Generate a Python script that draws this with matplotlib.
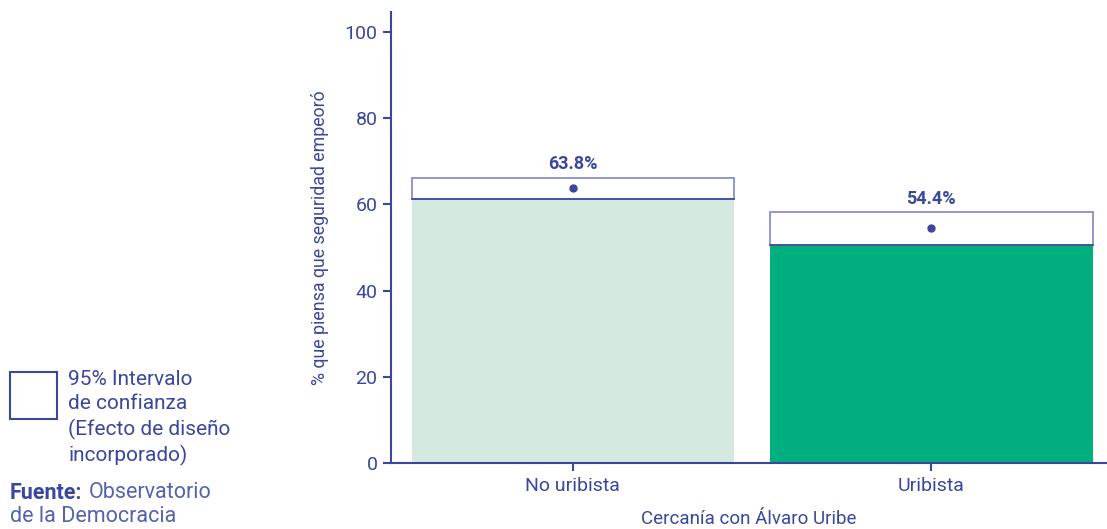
import matplotlib.pyplot as plt
from matplotlib.patches import Rectangle

plt.rcParams['font.family'] = ['Roboto', 'DejaVu Sans']

categories = ['No uribista', 'Uribista']
means = [63.8, 54.4]
ci_low = [61.2, 50.6]
ci_high = [66.2, 58.2]
labels = ['63.8%', '54.4%']
colors = ['#d4e9e0', '#00ae7e']

navy = '#3a479c'
box_edge = '#8f98c8'

fig = plt.figure(figsize=(11.07, 5.29), dpi=100)
ax = fig.add_axes([0.353, 0.125, 0.647, 0.852])

x = range(len(categories))
width = 0.9

# barras hasta el limite inferior del intervalo
ax.bar(x, ci_low, width=width, color=colors, zorder=1)

# cajas del intervalo de confianza
for i in x:
    ax.add_patch(Rectangle((i - width / 2, ci_low[i]), width, ci_high[i] - ci_low[i],
                           facecolor='white', edgecolor=box_edge, lw=1.4, zorder=2))
    ax.plot([i - width / 2, i + width / 2], [ci_low[i], ci_low[i]], color=navy, lw=1.2, zorder=3)
    ax.plot(i, means[i], 'o', color=navy, ms=5, zorder=4)
    ax.text(i, ci_high[i] + 1.0, labels[i], ha='center', va='bottom',
            fontsize=13, fontweight='bold', color=navy)

ax.set_xlim(-0.508, 1.49)
ax.set_ylim(0, 104.6)
ax.set_xticks(list(x))
ax.set_xticklabels(categories)
ax.set_yticks([0, 20, 40, 60, 80, 100])

for s in ['top', 'right']:
    ax.spines[s].set_visible(False)
for s in ['left', 'bottom']:
    ax.spines[s].set_color(navy)
    ax.spines[s].set_linewidth(1.5)
ax.tick_params(colors=navy, labelsize=14, length=6, width=1.5)
ax.tick_params(axis='x', pad=4)

ax.set_ylabel('% que piensa que seguridad empeoró', color=navy, fontsize=12.8, labelpad=11)
ax.set_xlabel('Cercanía con Álvaro Uribe', color=navy, fontsize=13.5, labelpad=11)

# leyenda
fig.patches.append(Rectangle((10 / 1107, 1 - 419 / 529), 47 / 1107, 47 / 529,
                             transform=fig.transFigure, facecolor='white',
                             edgecolor=navy, lw=1.5))
fig.text(68 / 1107, 1 - 370 / 529, '95% Intervalo\nde confianza\n(Efecto de diseño\nincorporado)',
         ha='left', va='top', fontsize=15, color=navy, linespacing=1.34)

fig.text(10 / 1107, 1 - 493 / 529, 'Fuente:', ha='left', va='center',
         fontsize=15.5, fontweight='bold', color=navy)
fig.text(89 / 1107, 1 - 493 / 529, 'Observatorio', ha='left', va='center',
         fontsize=15.5, color='#5563ad')
fig.text(10 / 1107, 1 - 517 / 529, 'de la Democracia', ha='left', va='center',
         fontsize=15.5, color='#5563ad')

fig.savefig('out.png', dpi=100)
